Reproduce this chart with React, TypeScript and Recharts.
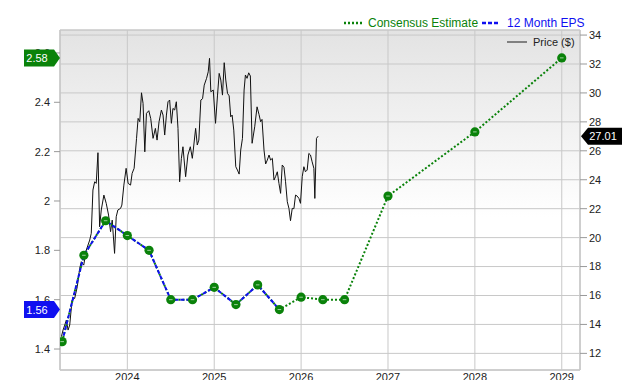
import React from 'react';
import {
  ComposedChart,
  Line,
  XAxis,
  YAxis,
  CartesianGrid,
  ReferenceLine,
  ReferenceArea,
} from 'recharts';

// quarterly reported 12 month EPS
const epsDates = [2023.25, 2023.5, 2023.75, 2024.0, 2024.25, 2024.5, 2024.75, 2025.0, 2025.25, 2025.5, 2025.75];
const epsValues = [1.43, 1.78, 1.92, 1.86, 1.8, 1.6, 1.6, 1.65, 1.58, 1.66, 1.56];

// consensus estimates going forward
const estimateDates = [2026.0, 2026.25, 2026.5, 2027, 2028, 2029];
const estimateValues = [1.61, 1.6, 1.6, 2.02, 2.28, 2.58];

// weekly close (decimal years)
const priceDates = [
  2023.241, 2023.26, 2023.28, 2023.298, 2023.318, 2023.337, 2023.364, 2023.394, 2023.424, 2023.452,
  2023.47, 2023.498, 2023.528, 2023.567, 2023.585, 2023.604, 2023.624, 2023.642, 2023.662, 2023.681,
  2023.7, 2023.73, 2023.757, 2023.784, 2023.807, 2023.826, 2023.853, 2023.872, 2023.891, 2023.922,
  2023.937, 2023.96, 2023.986, 2024.009, 2024.037, 2024.055, 2024.078, 2024.106, 2024.124, 2024.143,
  2024.163, 2024.181, 2024.201, 2024.22, 2024.247, 2024.269, 2024.296, 2024.323, 2024.342, 2024.365,
  2024.392, 2024.411, 2024.43, 2024.45, 2024.468, 2024.487, 2024.507, 2024.525, 2024.545, 2024.564,
  2024.583, 2024.602, 2024.622, 2024.64, 2024.671, 2024.697, 2024.725, 2024.748, 2024.759, 2024.786,
  2024.805, 2024.823, 2024.846, 2024.866, 2024.885, 2024.912, 2024.931, 2024.946, 2024.961, 2024.989,
  2025.015, 2025.038, 2025.057, 2025.076, 2025.095, 2025.115, 2025.133, 2025.153, 2025.172, 2025.19,
  2025.206, 2025.225, 2025.248, 2025.267, 2025.287, 2025.305, 2025.325, 2025.344, 2025.359, 2025.378,
  2025.397, 2025.416, 2025.436, 2025.466, 2025.493, 2025.516, 2025.534, 2025.55, 2025.573, 2025.592,
  2025.611, 2025.631, 2025.649, 2025.669, 2025.688, 2025.706, 2025.726, 2025.745, 2025.764, 2025.783,
  2025.803, 2025.821, 2025.841, 2025.86, 2025.878, 2025.898, 2025.917, 2025.936, 2025.955, 2025.975,
  2025.993, 2026.013, 2026.032, 2026.05, 2026.07, 2026.089, 2026.108, 2026.127, 2026.147, 2026.158,
  2026.177, 2026.196,
];
const prices = [
  13.15, 13.61, 13.96, 14.3, 13.61, 13.96, 15.69, 15.8, 16.61, 17.88,
  18.33, 18.1, 19.14, 19.83, 20.3, 23.29, 23.86, 23.75, 25.87, 20.75,
  21.91, 22.94, 22.37, 21.56, 20.41, 21.21, 18.91, 21.44, 21.91, 22.02,
  22.25, 23.63, 24.79, 23.75, 23.63, 24.44, 24.79, 26.86, 28.24, 28.01,
  30.01, 29.28, 25.93, 28.59, 28.77, 28.24, 26.86, 27.55, 26.74, 28.01,
  28.82, 28.47, 27.09, 28.47, 29.39, 29.51, 27.9, 28.93, 28.82, 29.39,
  27.55, 23.86, 25.48, 26.28, 24.21, 25.71, 26.28, 25.48, 26.05, 27.55,
  26.4, 26.74, 29.51, 29.6, 30.54, 31.01, 31.46, 32.39, 30.08, 30.2,
  27.9, 29.85, 31.35, 30.89, 29.85, 32.09, 30.89, 29.97, 29.8, 28.35,
  28.47, 27.43, 24.9, 24.67, 24.39, 26.05, 26.86, 30.2, 31.24, 31.01,
  31.39, 31.17, 26.52, 27.66, 29.04, 28.5, 28.01, 28.17, 26.05, 25.09,
  25.36, 25.71, 25.36, 25.48, 23.98, 24.21, 24.55, 23.75, 23.06, 25.02,
  24.86, 23.86, 22.48, 22.02, 21.17, 22.02, 22.0, 22.94, 22.87, 22.71,
  22.37, 24.21, 24.9, 24.55, 24.67, 25.82, 25.71, 25.24, 24.79, 22.71,
  26.86, 27.01,
];

const yearTicks = [2024, 2025, 2026, 2027, 2028, 2029];
const epsTicks = [1.4, 1.6, 1.8, 2, 2.2, 2.4, 2.6];
const priceTicks = [12, 14, 16, 18, 20, 22, 24, 26, 28, 30, 32, 34];

const LAST_ESTIMATE = 2.58;
const LAST_EPS = 1.56;
const LAST_PRICE = 27.01;

const X_DOMAIN: [number, number] = [2023.225, 2029.21];
const EPS_DOMAIN: [number, number] = [1.315, 2.693];
const PRICE_DOMAIN: [number, number] = [10.85, 34.35];

const GREEN = '#0a820a';
const BLUE = '#1010f0';
const GRID = '#c8c8c8';
const FONT = '"Liberation Sans", Arial, sans-serif';

const epsData = epsDates.map((t, i) => ({ t, eps: epsValues[i] }));
const consensusData = [
  ...epsData,
  ...estimateDates.map((t, i) => ({ t, eps: estimateValues[i] })),
];
const priceData = priceDates.map((t, i) => ({ t, price: prices[i] }));

const Badge = (props: any) => {
  const { viewBox, text, color, side } = props;
  if (!viewBox) return null;
  const y = viewBox.y;
  const h = 8.5;
  if (side === 'left') {
    const tip = viewBox.x;
    const d = `M${tip},${y} L${tip - 6},${y - h} L${tip - 36},${y - h} L${tip - 36},${y + h} L${tip - 6},${y + h} Z`;
    return (
      <g>
        <path d={d} fill={color} />
        <text x={tip - 23} y={y} dy="0.36em" textAnchor="middle" fill="#fff" fontSize={11} fontFamily={FONT}>
          {text}
        </text>
      </g>
    );
  }
  const tip = viewBox.x + viewBox.width + 1;
  const d = `M${tip},${y} L${tip + 7},${y - h} L${tip + 41},${y - h} L${tip + 41},${y + h} L${tip + 7},${y + h} Z`;
  return (
    <g>
      <path d={d} fill={color} />
      <text x={tip + 22} y={y} dy="0.36em" textAnchor="middle" fill="#fff" fontSize={11} fontFamily={FONT}>
        {text}
      </text>
    </g>
  );
};

const EpsDot = (props: any) => {
  const { cx, cy, index } = props;
  if (cx == null || cy == null) return <g key={index} />;
  return (
    <g key={index}>
      <circle cx={cx} cy={cy} r={4.6} fill={GREEN} />
      <line x1={cx - 1.8} x2={cx + 1.8} y1={cy} y2={cy} stroke="#9ccf9c" strokeWidth={1} />
    </g>
  );
};

const LegendSample = ({ color, dash }: { color: string; dash: string }) => (
  <svg width={18} height={4} style={{ display: 'block' }}>
    <line x1={0} x2={18} y1={2} y2={2} stroke={color} strokeWidth={2.5} strokeDasharray={dash} />
  </svg>
);

export default function App() {
  return (
    <div style={{ position: 'absolute', left: 0, top: 0, width: 640, height: 380, background: '#fff', fontFamily: FONT }}>
      <ComposedChart
        width={640}
        height={380}
        margin={{ top: 30, right: 0, bottom: 0, left: 0 }}
        style={{ fontFamily: FONT }}
      >
        <defs>
          <linearGradient id="plotBg" x1="0" y1="0" x2="0" y2="1">
            <stop offset="0%" stopColor="#e3e3e3" />
            <stop offset="55%" stopColor="#ffffff" />
          </linearGradient>
        </defs>
        <CartesianGrid yAxisId="price" stroke={GRID} fill="url(#plotBg)" fillOpacity={1} />
        <XAxis
          dataKey="t"
          type="number"
          domain={X_DOMAIN}
          allowDataOverflow
          ticks={yearTicks}
          height={10}
          tickSize={0}
          tickMargin={3}
          axisLine={{ stroke: GRID }}
          tick={{ fill: '#222', fontSize: 11 }}
        />
        <YAxis
          yAxisId="eps"
          orientation="left"
          width={60}
          domain={EPS_DOMAIN}
          allowDataOverflow
          ticks={epsTicks}
          tickFormatter={(v: number) => String(+v.toFixed(1))}
          tickSize={6}
          tickMargin={4}
          axisLine={{ stroke: GRID }}
          tickLine={{ stroke: '#999' }}
          tick={{ fill: '#222', fontSize: 11 }}
        />
        <YAxis
          yAxisId="price"
          orientation="right"
          width={60}
          domain={PRICE_DOMAIN}
          allowDataOverflow
          ticks={priceTicks}
          tickSize={7}
          tickMargin={2}
          axisLine={{ stroke: GRID }}
          tickLine={{ stroke: '#999' }}
          tick={{ fill: '#222', fontSize: 11 }}
        />
        <ReferenceArea
          yAxisId="price"
          x1={X_DOMAIN[0]}
          x2={X_DOMAIN[1]}
          y1={PRICE_DOMAIN[0]}
          y2={PRICE_DOMAIN[1]}
          fill="none"
          stroke={GRID}
          ifOverflow="visible"
        />
        <Line
          yAxisId="price"
          data={priceData}
          dataKey="price"
          type="linear"
          stroke="#111"
          strokeWidth={1}
          dot={false}
          isAnimationActive={false}
        />
        <Line
          yAxisId="eps"
          data={consensusData}
          dataKey="eps"
          type="linear"
          stroke={GREEN}
          strokeWidth={2}
          strokeDasharray="2 2"
          dot={false}
          isAnimationActive={false}
        />
        <Line
          yAxisId="eps"
          data={epsData}
          dataKey="eps"
          type="linear"
          stroke={BLUE}
          strokeWidth={2}
          strokeDasharray="4 2"
          dot={false}
          isAnimationActive={false}
        />
        <Line
          yAxisId="eps"
          data={consensusData}
          dataKey="eps"
          type="linear"
          stroke="none"
          dot={<EpsDot />}
          isAnimationActive={false}
        />
        {/* badges sit above the axis tick labels, as in the source chart */}
        <ReferenceLine
          yAxisId="eps"
          y={LAST_ESTIMATE}
          stroke="none"
          ifOverflow="visible"
          zIndex={3000}
          label={<Badge text={LAST_ESTIMATE.toFixed(2)} color={GREEN} side="left" />}
        />
        <ReferenceLine
          yAxisId="eps"
          y={LAST_EPS}
          stroke="none"
          ifOverflow="visible"
          zIndex={3000}
          label={<Badge text={LAST_EPS.toFixed(2)} color={BLUE} side="left" />}
        />
        <ReferenceLine
          yAxisId="price"
          y={LAST_PRICE}
          stroke="none"
          ifOverflow="visible"
          zIndex={3000}
          label={<Badge text={LAST_PRICE.toFixed(2)} color="#000" side="right" />}
        />
      </ComposedChart>

      <div
        style={{
          position: 'absolute',
          left: 344,
          top: 15,
          display: 'flex',
          alignItems: 'center',
          whiteSpace: 'nowrap',
          fontSize: 12,
          lineHeight: '16px',
        }}
      >
        <LegendSample color={GREEN} dash="2 2" />
        <span style={{ color: GREEN, marginLeft: 6 }}>Consensus Estimate</span>
        <span style={{ marginLeft: 4 }}>
          <LegendSample color={BLUE} dash="4 2" />
        </span>
        <span style={{ color: BLUE, marginLeft: 7 }}>12 Month EPS</span>
      </div>
      <div
        style={{
          position: 'absolute',
          left: 507,
          top: 35,
          display: 'flex',
          alignItems: 'center',
          whiteSpace: 'nowrap',
          fontSize: 11,
          lineHeight: '14px',
          color: '#222',
        }}
      >
        <div style={{ width: 20, height: 2, background: '#808080' }} />
        <span style={{ marginLeft: 6 }}>Price ($)</span>
      </div>
    </div>
  );
}
